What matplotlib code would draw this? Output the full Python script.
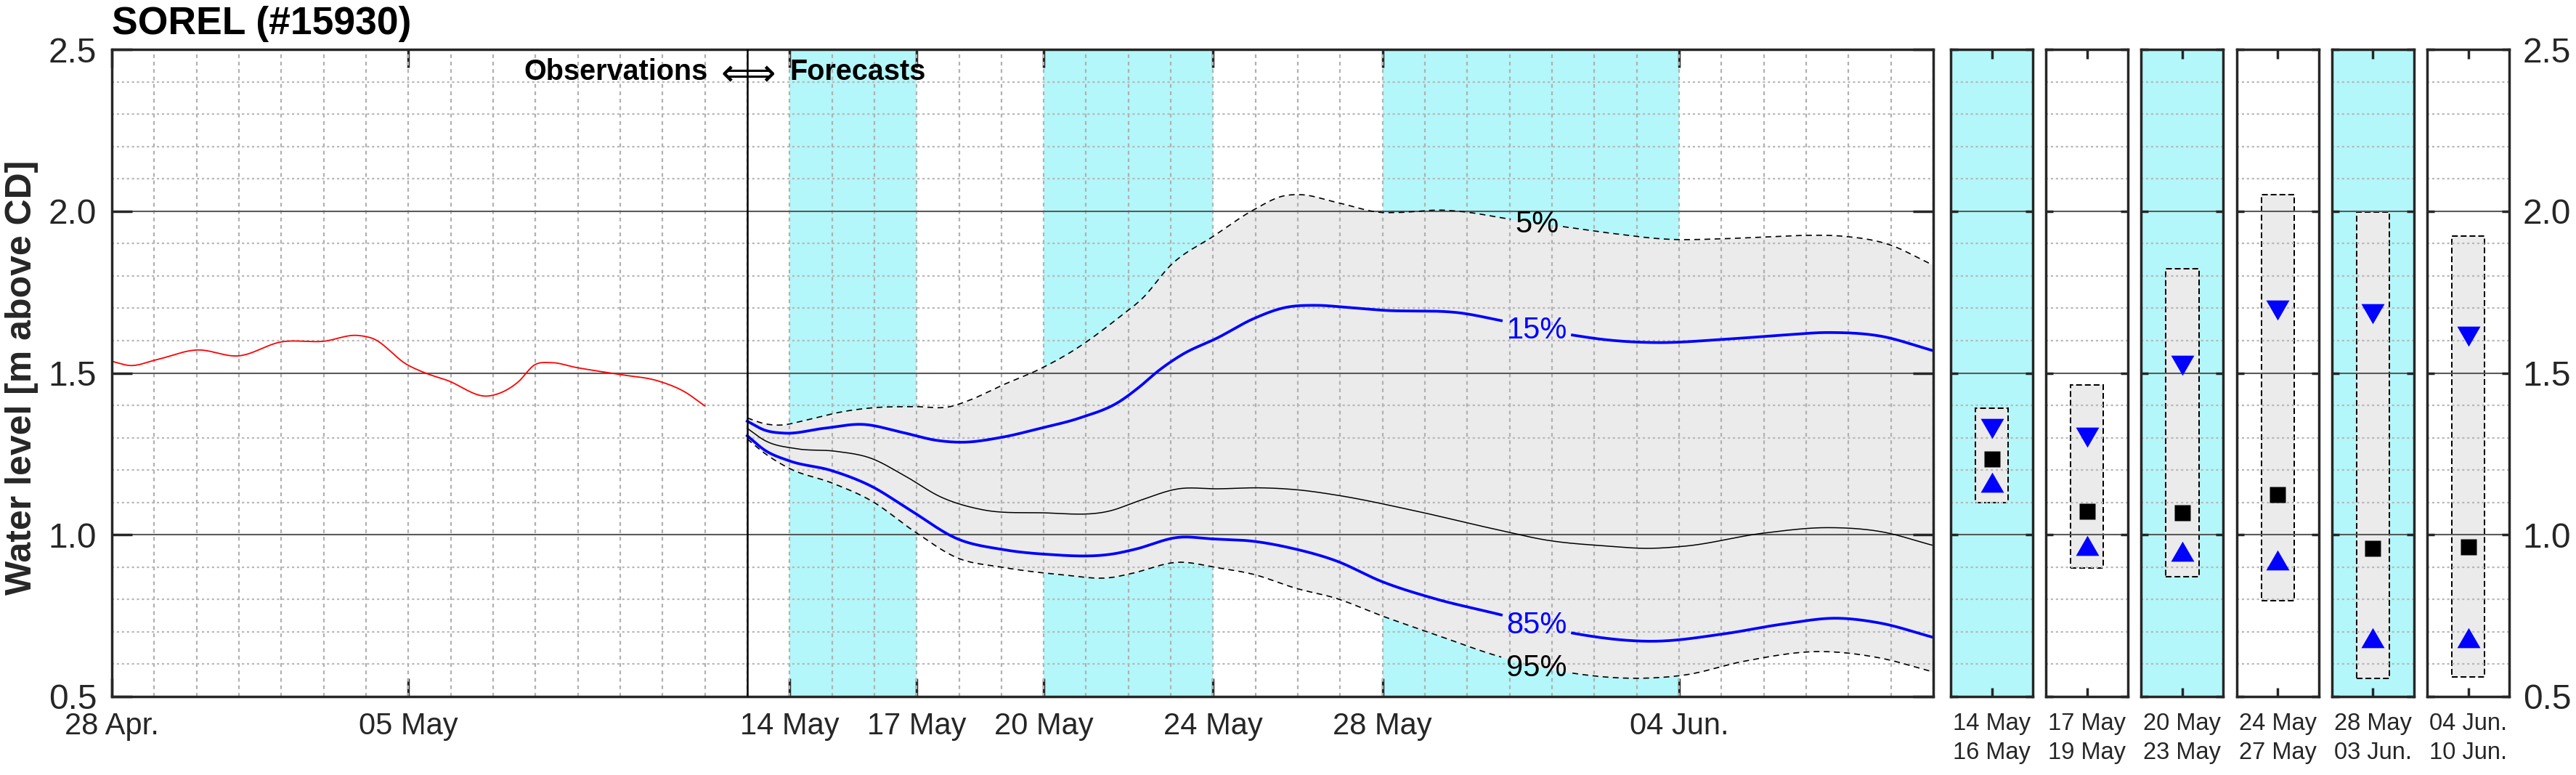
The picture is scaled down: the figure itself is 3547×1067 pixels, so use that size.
import numpy as np
import matplotlib.pyplot as plt
from matplotlib.ticker import MultipleLocator

plt.rcParams['font.family'] = ['Liberation Sans', 'DejaVu Sans']

# x values are days since 28 Apr.
tick_days = [0, 7, 16, 19, 22, 26, 30, 37]
tick_labels = ['28 Apr.', '05 May', '14 May', '17 May', '20 May', '24 May', '28 May', '04 Jun.']
cyan_spans = [(16, 19), (22, 26), (30, 37)]
split_day = 15

obs_day = [0.0, 0.44, 1.03, 2.0, 3.0, 4.0, 5.0, 5.8, 6.15, 6.98, 7.42, 7.9, 8.9,
           9.59, 9.98, 10.37, 10.96, 11.95, 12.93, 13.52, 13.99]
obs_val = [1.536, 1.523, 1.540, 1.571, 1.553, 1.596, 1.598, 1.616, 1.607, 1.525, 1.499,
           1.478, 1.429, 1.472, 1.525, 1.532, 1.517, 1.496, 1.474, 1.442, 1.399]

q05_day = [15.0, 15.42, 15.79, 16.35, 17.28, 18.02, 18.95, 19.79, 20.25, 21.0, 21.92, 22.67,
           23.78, 24.34, 24.99, 26.01, 26.94, 27.69, 28.06, 28.89, 29.99, 30.36, 31.46, 31.92,
           33.02, 34.22, 35.32, 36.79, 38.07, 38.99, 39.91, 40.83, 41.93, 42.97]
q05_val = [1.361, 1.343, 1.339, 1.353, 1.381, 1.393, 1.396, 1.396, 1.416, 1.461, 1.513, 1.567,
           1.672, 1.732, 1.832, 1.923, 2.003, 2.048, 2.051, 2.028, 1.996, 1.996, 2.003, 1.998,
           1.975, 1.953, 1.933, 1.913, 1.915, 1.920, 1.925, 1.923, 1.898, 1.835]

q15_day = [15.0, 15.42, 15.88, 16.81, 17.74, 18.67, 19.51, 20.07, 21.0, 21.92, 22.85, 23.78,
           24.25, 24.71, 25.27, 26.11, 26.94, 27.69, 28.43, 29.06, 29.99, 31.92, 32.79, 34.49,
           35.32, 36.42, 38.07, 39.45, 40.55, 41.75, 42.97]
q15_val = [1.351, 1.323, 1.314, 1.329, 1.341, 1.316, 1.291, 1.286, 1.301, 1.329, 1.361, 1.411,
           1.456, 1.507, 1.557, 1.609, 1.667, 1.702, 1.709, 1.704, 1.694, 1.684, 1.662, 1.617,
           1.602, 1.594, 1.604, 1.617, 1.625, 1.614, 1.570]

q50_day = [15.0, 15.42, 16.16, 17.09, 17.93, 18.67, 19.60, 20.53, 21.92, 23.6, 24.25, 25.18,
           26.11, 27.13, 28.06, 28.89, 30.73, 32.56, 33.94, 35.32, 36.24, 37.15, 38.99, 40.55,
           41.75, 42.97]
q50_val = [1.329, 1.291, 1.266, 1.258, 1.236, 1.186, 1.115, 1.078, 1.068, 1.075, 1.105, 1.142,
           1.142, 1.145, 1.138, 1.123, 1.075, 1.020, 0.982, 0.965, 0.958, 0.965, 1.005, 1.022,
           1.010, 0.968]

q85_day = [15.0, 15.42, 15.98, 17.0, 17.93, 18.86, 19.97, 21.0, 22.02, 23.69, 24.15, 25.18,
           26.01, 26.94, 27.87, 28.89, 29.99, 31.19, 32.75, 34.49, 36.42, 38.07, 39.45, 40.74,
           41.75, 42.97]
q85_val = [1.306, 1.261, 1.229, 1.198, 1.150, 1.075, 0.987, 0.955, 0.940, 0.942, 0.955, 0.992,
           0.987, 0.980, 0.958, 0.920, 0.855, 0.804, 0.754, 0.696, 0.671, 0.694, 0.724, 0.742,
           0.727, 0.684]

q95_day = [15.0, 15.42, 15.98, 17.0, 17.93, 18.95, 19.97, 21.0, 22.39, 23.6, 24.06, 25.18,
           26.11, 26.94, 27.97, 28.89, 29.99, 31.19, 32.75, 34.4, 36.24, 37.15, 38.53, 40.37,
           41.75, 42.97]
q95_val = [1.296, 1.251, 1.206, 1.160, 1.105, 1.010, 0.928, 0.900, 0.877, 0.868, 0.880, 0.915,
           0.898, 0.878, 0.834, 0.804, 0.749, 0.694, 0.624, 0.574, 0.557, 0.567, 0.609, 0.639,
           0.619, 0.577]

pct_labels = ['5%', '15%', '85%', '95%']
pct_label_day = 33.64
pct_label_val = [1.959, 1.632, 0.719, 0.587]

# side panels: period summaries
panel_labels = ['14 May\n16 May', '17 May\n19 May', '20 May\n23 May',
                '24 May\n27 May', '28 May\n03 Jun.', '04 Jun.\n10 Jun.']
panel_cyan = [True, False, True, False, True, False]
p05 = [1.392, 1.462, 1.822, 2.051, 1.997, 1.923]
p15 = [1.328, 1.301, 1.524, 1.694, 1.683, 1.613]
p50 = [1.235, 1.073, 1.068, 1.123, 0.959, 0.963]
p85 = [1.163, 0.967, 0.950, 0.923, 0.682, 0.682]
p95 = [1.099, 0.898, 0.870, 0.797, 0.557, 0.561]

CYAN = '#b3f7fa'
BAND = '#ebebeb'
DARK = '#262626'
W, H = 3547, 1067
TRI_DOWN = [(-1, 0.866), (1, 0.866), (0, -0.866)]
TRI_UP = [(-1, -0.866), (1, -0.866), (0, 0.866)]
DOTS = (0, (1.4, 1.7))


def smooth(x, y, xs):
    # cubic hermite through the read points
    x = np.asarray(x, float)
    y = np.asarray(y, float)
    m = np.gradient(y, x)
    i = np.clip(np.searchsorted(x, xs) - 1, 0, len(x) - 2)
    h = x[i + 1] - x[i]
    t = (xs - x[i]) / h
    return ((2 * t**3 - 3 * t**2 + 1) * y[i] + (t**3 - 2 * t**2 + t) * h * m[i]
            + (-2 * t**3 + 3 * t**2) * y[i + 1] + (t**3 - t**2) * h * m[i + 1])


def box(l, r, t, b):
    return [l / W, 1 - b / H, (r - l) / W, (b - t) / H]


fig = plt.figure(figsize=(W / 100, H / 100), dpi=100)
ax = fig.add_axes(box(154, 2662, 68, 959))

for a, b in cyan_spans:
    ax.axvspan(a, b, color=CYAN, lw=0, zorder=0)

xs_obs = np.linspace(obs_day[0], obs_day[-1], 600)
ax.plot(xs_obs, smooth(obs_day, obs_val, xs_obs), color='red', lw=1.3, zorder=2)

xs = np.linspace(15.0, 42.97, 1500)
lo = smooth(q95_day, q95_val, xs)
hi = smooth(q05_day, q05_val, xs)
ax.fill_between(xs, lo, hi, color=BAND, lw=0, zorder=1)


def gapped(y, half):
    y = y.copy()
    y[np.abs(xs - pct_label_day) < half] = np.nan
    return y


ax.plot(xs, gapped(hi, 0.6), color='k', lw=1.2, ls=(0, (4.8, 3.6)), zorder=2)
ax.plot(xs, gapped(lo, 0.83), color='k', lw=1.2, ls=(0, (4.8, 3.6)), zorder=2)
ax.plot(xs, gapped(smooth(q15_day, q15_val, xs), 0.83), color='blue', lw=2.7, zorder=2)
ax.plot(xs, gapped(smooth(q85_day, q85_val, xs), 0.83), color='blue', lw=2.7, zorder=2)
ax.plot(xs, smooth(q50_day, q50_val, xs), color='k', lw=1.1, zorder=2)

for s, v, c in zip(pct_labels, pct_label_val, ['k', 'blue', 'blue', 'k']):
    ax.text(pct_label_day, v, s, ha='center', va='center', fontsize=30, color=c, zorder=4)

ax.text(14.07, 2.406, 'Observations', ha='right', va='baseline', fontsize=28.5, weight='bold')
ax.text(15.03, 2.388, '\u27fa', ha='center', va='baseline', fontsize=38,
        family=['DejaVu Sans'], zorder=2)
ax.text(16.0, 2.406, 'Forecasts', ha='left', va='baseline', fontsize=28.5, weight='bold')
ax.axvline(split_day, color='k', lw=1.8, zorder=3)

ax.set_xlim(0, 43)
ax.set_ylim(0.5, 2.5)
ax.set_xticks(tick_days, tick_labels)
ax.xaxis.set_minor_locator(MultipleLocator(1))
ax.xaxis.remove_overlapping_locs = False
ax.yaxis.set_major_locator(MultipleLocator(0.5))
ax.yaxis.set_minor_locator(MultipleLocator(0.1))
ax.yaxis.set_major_formatter(lambda v, p: f'{v:.1f}')
ax.set_axisbelow('line')
ax.grid(which='minor', axis='x', color='#b0b0b0', lw=1.6, ls=(0, (2.3, 2.3)))
ax.grid(which='minor', axis='y', color='#b8b8b8', lw=1.6, ls=DOTS)
ax.grid(which='major', axis='y', color='#5a5a5a', lw=1.5)
ax.tick_params(axis='x', which='major', direction='in', top=True, length=18, width=2.5,
               labelsize=30, pad=15, colors=DARK)
ax.tick_params(axis='y', which='major', direction='in', right=True, length=20, width=2.5,
               labelsize=34.5, pad=15, colors=DARK)
ax.tick_params(which='minor', length=0)
for sp in ax.spines.values():
    sp.set_linewidth(2.5)
    sp.set_color(DARK)

for i in range(6):
    left = 2686 + i * 131.2
    pax = fig.add_axes(box(left, left + 113, 68, 959))
    if panel_cyan[i]:
        pax.set_facecolor(CYAN)
    pax.bar(0.5, p05[i] - p95[i], bottom=p95[i], width=0.4, color=BAND,
            edgecolor='k', lw=1.45, ls=(0, (4, 2)), zorder=1)
    pax.plot(0.5, p15[i], marker=TRI_DOWN, color='blue', ms=23, mec='none', zorder=3)
    pax.plot(0.5, p85[i], marker=TRI_UP, color='blue', ms=23, mec='none', zorder=3)
    pax.plot(0.5, p50[i], 's', color='k', ms=15.6, mec='none', zorder=3)
    pax.set_xlim(0, 1)
    pax.set_ylim(0.5, 2.5)
    pax.set_xticks([0.5], [panel_labels[i]])
    pax.yaxis.set_major_locator(MultipleLocator(0.5))
    pax.yaxis.set_minor_locator(MultipleLocator(0.1))
    pax.yaxis.set_major_formatter(lambda v, p: f'{v:.1f}')
    pax.set_axisbelow('line')
    pax.grid(which='minor', axis='y', color='#b8b8b8', lw=1.6, ls=DOTS)
    pax.grid(which='major', axis='y', color='#5a5a5a', lw=1.5)
    pax.tick_params(axis='x', direction='in', top=True, length=9, width=2.5,
                    labelsize=23.5, pad=16, colors=DARK)
    for lab in pax.get_xticklabels():
        lab.set_linespacing(1.35)
    pax.tick_params(axis='y', which='major', direction='in', left=True, right=True,
                    length=7, width=2.5, labelleft=False, labelright=(i == 5),
                    labelsize=34.5, pad=13.5, colors=DARK)
    pax.tick_params(which='minor', length=0)
    for sp in pax.spines.values():
        sp.set_linewidth(2.5)
        sp.set_color(DARK)

fig.text(30 / W, 1 - 519.5 / H, 'Water level [m above CD]', rotation=90, ha='center',
         va='center', fontsize=36, weight='bold', color=DARK)
fig.text(154 / W, 1 - 47 / H, 'SOREL (#15930)', fontsize=38.5, weight='bold', va='baseline')

fig.savefig('out.png', dpi=100)
